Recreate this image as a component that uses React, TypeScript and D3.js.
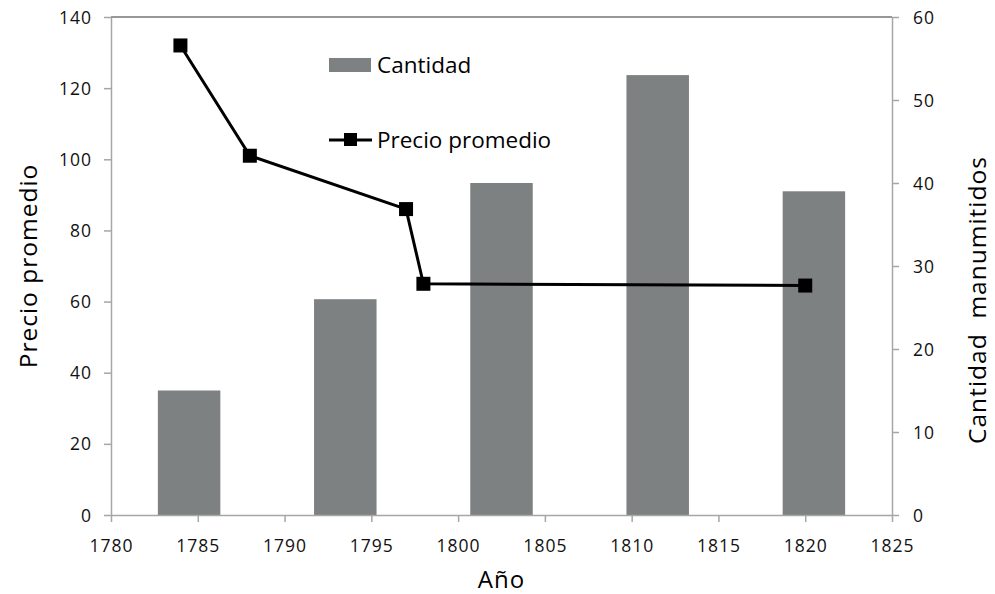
import React, { useEffect, useRef } from 'react';
import * as d3 from 'd3';

// bars: cantidad manumitidos (right axis)
const barYears = [1784.5, 1793.5, 1802.5, 1811.5, 1820.5];
const barValues = [15, 26, 40, 53, 39];

// line: precio promedio (left axis)
const lineYears = [1784, 1788, 1797, 1798, 1820];
const lineValues = [132, 101, 86, 65, 64.5];

const xTicks = [1780, 1785, 1790, 1795, 1800, 1805, 1810, 1815, 1820, 1825];
const leftTicks = [0, 20, 40, 60, 80, 100, 120, 140];
const rightTicks = [0, 10, 20, 30, 40, 50, 60];

const W = 995;
const H = 594;
const FONT = '"Open Sans", sans-serif';
const AXIS = '#a6a6a6';
const BAR = '#7d8181';

const App: React.FC = () => {
    const ref = useRef<SVGSVGElement>(null);

    useEffect(() => {
        const svg = d3.select(ref.current);
        svg.selectAll('*').remove();

        const left = 111, right = 892, top = 17, bottom = 515;

        const x = d3.scaleLinear().domain([1780, 1825]).range([left, right]);
        const yL = d3.scaleLinear().domain([0, 140]).range([bottom, top]);
        const yR = d3.scaleLinear().domain([0, 60]).range([bottom, top]);
        const barW = x(1783.6) - x(1780);

        // bars
        svg.append('g')
            .selectAll('rect')
            .data(barYears)
            .enter()
            .append('rect')
            .attr('x', (d) => x(d) - barW / 2)
            .attr('width', barW)
            .attr('y', (d, i) => yR(barValues[i]))
            .attr('height', (d, i) => bottom - yR(barValues[i]))
            .attr('fill', BAR);

        // top border
        svg.append('line')
            .attr('x1', left).attr('x2', right)
            .attr('y1', top).attr('y2', top)
            .attr('stroke', '#333').attr('stroke-width', 1.2);

        // bottom axis
        const gx = svg.append('g')
            .attr('transform', `translate(0,${bottom})`)
            .call(d3.axisBottom(x).tickValues(xTicks).tickFormat(d3.format('d')).tickSize(7).tickSizeOuter(0));
        gx.select('.domain').attr('stroke', AXIS).attr('stroke-width', 1.5);
        gx.selectAll('line').attr('stroke', AXIS).attr('stroke-width', 1.5);
        gx.selectAll('text')
            .attr('dy', 0).attr('y', 37)
            .style('font-family', FONT).style('font-size', '17.5px').style('letter-spacing', '1px').attr('fill', '#111');

        // left axis
        const gl = svg.append('g')
            .attr('transform', `translate(${left},0)`)
            .call(d3.axisLeft(yL).tickValues(leftTicks).tickSize(7).tickSizeOuter(0));
        gl.select('.domain').attr('stroke', AXIS).attr('stroke-width', 1.5);
        gl.selectAll('line').attr('stroke', AXIS).attr('stroke-width', 1.5);
        gl.selectAll('text')
            .attr('x', -19).attr('dy', '0.35em')
            .style('font-family', FONT).style('font-size', '17.5px').style('letter-spacing', '1px').attr('fill', '#111');

        // right axis
        const gr = svg.append('g')
            .attr('transform', `translate(${right},0)`)
            .call(d3.axisRight(yR).tickValues(rightTicks).tickSize(7).tickSizeOuter(0));
        gr.select('.domain').attr('stroke', AXIS).attr('stroke-width', 1.5);
        gr.selectAll('line').attr('stroke', AXIS).attr('stroke-width', 1.5);
        gr.selectAll('text')
            .attr('x', 21).attr('dy', '0.35em')
            .style('font-family', FONT).style('font-size', '17.5px').style('letter-spacing', '1px').attr('fill', '#111');

        // line
        const pts: [number, number][] = lineYears.map((d, i) => [x(d), yL(lineValues[i])]);
        svg.append('path')
            .attr('d', d3.line()(pts))
            .attr('fill', 'none')
            .attr('stroke', '#000')
            .attr('stroke-width', 3);
        svg.append('g')
            .selectAll('rect')
            .data(pts)
            .enter()
            .append('rect')
            .attr('x', (d) => d[0] - 7)
            .attr('y', (d) => d[1] - 7)
            .attr('width', 14)
            .attr('height', 14)
            .attr('fill', '#000');

        // legend
        const lg = svg.append('g').style('font-family', FONT).style('font-size', '22.5px');
        lg.append('rect').attr('x', 329).attr('y', 58).attr('width', 42).attr('height', 14).attr('fill', BAR);
        lg.append('text').attr('x', 377).attr('y', 73).text('Cantidad').attr('fill', '#000');
        lg.append('line').attr('x1', 329).attr('x2', 372).attr('y1', 140).attr('y2', 140)
            .attr('stroke', '#000').attr('stroke-width', 3);
        lg.append('rect').attr('x', 344).attr('y', 133).attr('width', 13).attr('height', 13).attr('fill', '#000');
        lg.append('text').attr('x', 377).attr('y', 148).text('Precio promedio').attr('fill', '#000');

        // axis titles
        svg.append('text')
            .attr('x', (left + right) / 2).attr('y', 588)
            .attr('text-anchor', 'middle')
            .style('font-family', FONT).style('font-size', '24px').style('letter-spacing', '1px')
            .text('Año');
        svg.append('text')
            .attr('transform', `translate(37,${(top + bottom) / 2}) rotate(-90)`)
            .attr('text-anchor', 'middle')
            .style('font-family', FONT).style('font-size', '24.5px').style('letter-spacing', '1px')
            .text('Precio promedio');
        svg.append('text')
            .attr('transform', `translate(986,${(top + bottom) / 2 + 34}) rotate(-90)`)
            .attr('text-anchor', 'middle')
            .style('font-family', FONT).style('font-size', '24.5px').style('letter-spacing', '1px')
            .text('Cantidad\u00a0 manumitidos');
    }, []);

    return (
        <svg
            ref={ref}
            width={W}
            height={H}
            style={{ position: 'absolute', left: 0, top: 0, background: '#fff' }}
        />
    );
};

export default App;
